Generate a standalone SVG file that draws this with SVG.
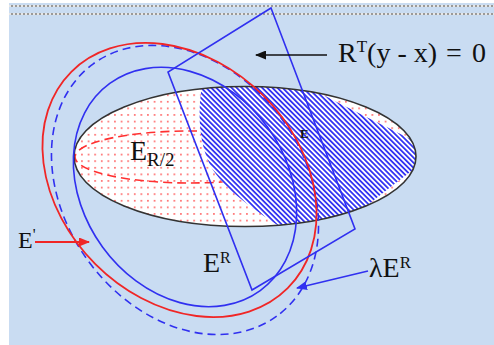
<svg xmlns="http://www.w3.org/2000/svg" width="494" height="345" viewBox="0 0 494 345">
<style>
.lbl{font-family:"Liberation Serif","Times New Roman",serif;fill:#111}
.bl{fill:none;stroke:#3030f0;stroke-width:1.6}
.rd{fill:none;stroke:#f02626;stroke-width:1.8}
</style>
<defs>
<pattern id="dots" patternUnits="userSpaceOnUse" width="6.6" height="6.6"><rect width="6.6" height="6.6" fill="#fff"/><rect x="2" y="2" width="1.5" height="1.5" fill="#ff4545"/></pattern>
<pattern id="hatch" patternUnits="userSpaceOnUse" width="3.6" height="10" patternTransform="rotate(-45)"><rect width="3.6" height="10" fill="#fff"/><rect width="1.8" height="10" fill="#3535f2"/></pattern>
<clipPath id="bigclip"><ellipse cx="245" cy="156.5" rx="171" ry="70"/></clipPath>
<marker id="ak" markerUnits="userSpaceOnUse" markerWidth="11" markerHeight="9" refX="10" refY="4.5" orient="auto"><path d="M0,0 L11,4.5 L0,9 Z" fill="#111"/></marker>
<marker id="ar" markerUnits="userSpaceOnUse" markerWidth="11" markerHeight="9" refX="10" refY="4.5" orient="auto"><path d="M0,0 L11,4.5 L0,9 Z" fill="#f02626"/></marker>
<marker id="ab" markerUnits="userSpaceOnUse" markerWidth="11" markerHeight="9" refX="10" refY="4.5" orient="auto"><path d="M0,0 L11,4.5 L0,9 Z" fill="#3030f0"/></marker>
</defs>
<rect width="494" height="345" fill="#fff"/>
<rect x="9" y="3" width="485" height="342" fill="#c9dcf2"/>
<g id="top-border">
<line x1="9" y1="6" x2="494" y2="6" stroke="#9a9a9a" stroke-width="2"/>
<line x1="9" y1="6" x2="494" y2="6" stroke="#fff" stroke-width="1.4" stroke-dasharray="2 2"/>
<line x1="9" y1="14" x2="494" y2="14" stroke="#9a9a9a" stroke-width="2"/>
<line x1="9" y1="14" x2="494" y2="14" stroke="#fff" stroke-width="1.4" stroke-dasharray="2 2"/>
</g>
<g id="region">
<ellipse cx="245" cy="156.5" rx="171" ry="70" fill="url(#dots)"/>
<g clip-path="url(#bigclip)">
<ellipse cx="190" cy="157" rx="115" ry="26" fill="none" stroke="#ff3030" stroke-width="1.6" stroke-dasharray="9 5"/>
<path id="E" d="M205,70 C198,100 196,135 210,165 C225,192 258,212 300,240 L345,225 C365,205 395,185 425,160 L428,148 C390,128 330,100 300,82 Z" fill="url(#hatch)"/>
</g>
<ellipse cx="245" cy="156.5" rx="171" ry="70" fill="none" stroke="#333" stroke-width="1.6"/>
</g>
<g id="lambdaER"><ellipse cx="185" cy="190" rx="156" ry="120" transform="rotate(54 185 190)" class="bl" stroke-dasharray="8 5"/></g>
<g id="ER"><ellipse cx="185" cy="187" rx="128" ry="102" transform="rotate(54 185 187)" class="bl"/></g>
<g id="Eprime"><ellipse cx="179.5" cy="180" rx="153" ry="119" transform="rotate(45 179.5 180)" class="rd"/></g>
<g id="plane"><path d="M271,8 L355,229 L252,290 L168,72 Z" class="bl" stroke-width="1.4"/></g>
<g id="connectors">
<line x1="327" y1="55" x2="256" y2="55" stroke="#111" stroke-width="1.6" marker-end="url(#ak)"/>
<line x1="35" y1="242" x2="89" y2="242" stroke="#f02626" stroke-width="1.8" marker-end="url(#ar)"/>
<line x1="368" y1="271" x2="297" y2="288" stroke="#3030f0" stroke-width="1.6" marker-end="url(#ab)"/>
</g>
<g id="labels">
<text class="lbl" x="338" y="62" font-size="28">R<tspan font-size="17" dy="-10">T</tspan><tspan dy="10">(y - x)</tspan><tspan x="446">=</tspan><tspan x="472">0</tspan></text>
<text class="lbl" x="130" y="160" font-size="28">E<tspan font-size="19" dy="6">R/2</tspan></text>
<text class="lbl" x="300" y="138" font-size="13" font-weight="bold">E</text>
<text class="lbl" x="18" y="248" font-size="24">E<tspan font-size="16" dy="-8">'</tspan></text>
<text class="lbl" x="203" y="272" font-size="28">E<tspan font-size="16" dy="-9">R</tspan></text>
<text class="lbl" x="369" y="277" font-size="28">λE<tspan font-size="17" dy="-9">R</tspan></text>
</g>
</svg>
